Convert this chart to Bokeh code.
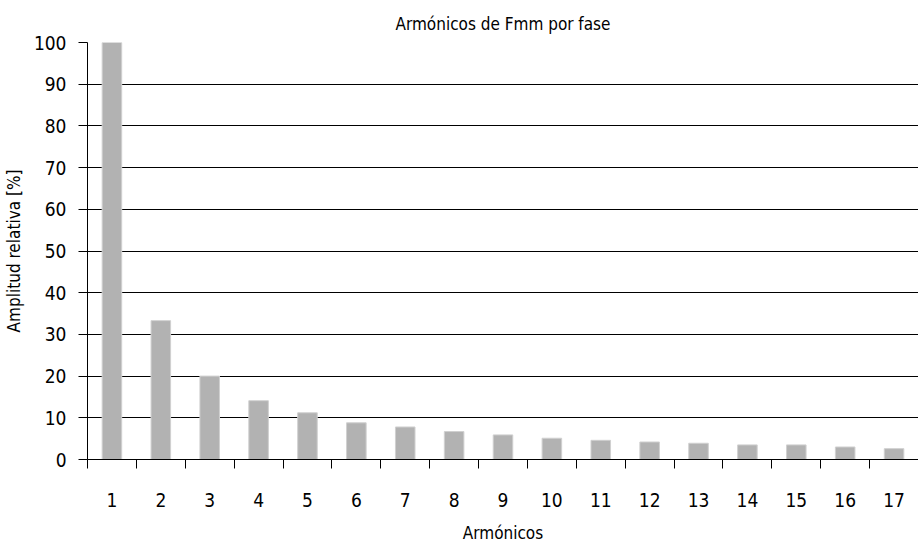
from bokeh.plotting import figure
from bokeh.models import FixedTicker, ColumnDataSource, Range1d
from bokeh.embed import file_html
from bokeh.resources import INLINE

harmonics = list(range(1, 18))
amplitude = [100, 33.3, 20.0, 14.1, 11.2, 8.8, 7.8, 6.7, 5.9, 5.1, 4.6, 4.2, 3.9, 3.5, 3.5, 3.0, 2.6]
y_ticks = list(range(0, 101, 10))
title_text = "Armónicos de Fmm por fase"
x_label = "Armónicos"
y_label = "Amplitud relativa [%]"

FONT = "DejaVu Sans Condensed"

src = ColumnDataSource(dict(x=harmonics, y=amplitude))

p = figure(
    output_backend="svg", toolbar_location=None,
    frame_width=831, frame_height=417,
    min_border_left=86, min_border_right=0, min_border_top=42, min_border_bottom=70,
    x_range=Range1d(0.5, 17.5), y_range=Range1d(0, 100),
    title=title_text,
)
p.outline_line_color = None
p.background_fill_color = "white"
p.border_fill_color = "white"

p.vbar(x="x", top="y", width=0.4, bottom=0, source=src,
       fill_color="#b2b2b2", line_color="#d0d0d0", line_width=1)

p.title.align = "center"
p.title.text_font = FONT
p.title.text_font_size = "17px"
p.title.text_font_style = "normal"
p.title.text_color = "black"
p.title.standoff = 18

p.xgrid.grid_line_color = None
p.ygrid.grid_line_color = "black"
p.ygrid.grid_line_width = 1
p.ygrid.ticker = FixedTicker(ticks=y_ticks)

ya = p.yaxis[0]
ya.ticker = FixedTicker(ticks=y_ticks)
ya.major_tick_out = 9
ya.major_tick_in = 0
ya.minor_tick_out = 0
ya.minor_tick_in = 0
ya.axis_line_color = "black"
ya.major_tick_line_color = "black"
ya.major_label_text_font = FONT
ya.major_label_text_font_size = "19px"
ya.major_label_text_color = "black"
ya.major_label_standoff = 12
ya.axis_label = y_label
ya.axis_label_text_font = FONT
ya.axis_label_text_font_size = "17px"
ya.axis_label_text_font_style = "normal"
ya.axis_label_text_color = "black"
ya.axis_label_standoff = 7

xa = p.xaxis[0]
xa.ticker = FixedTicker(ticks=harmonics, minor_ticks=[h - 0.5 for h in harmonics] + [17.5])
xa.major_tick_out = 0
xa.major_tick_in = 0
xa.minor_tick_out = 9
xa.minor_tick_in = 0
xa.minor_tick_line_color = "black"
xa.axis_line_color = "black"
xa.major_label_text_font = FONT
xa.major_label_text_font_size = "19px"
xa.major_label_text_color = "black"
xa.major_label_standoff = 24
xa.axis_label = x_label
xa.axis_label_text_font = FONT
xa.axis_label_text_font_size = "17px"
xa.axis_label_text_font_style = "normal"
xa.axis_label_text_color = "black"
xa.axis_label_standoff = 13

open("out.html", "w").write(file_html(p, INLINE))
